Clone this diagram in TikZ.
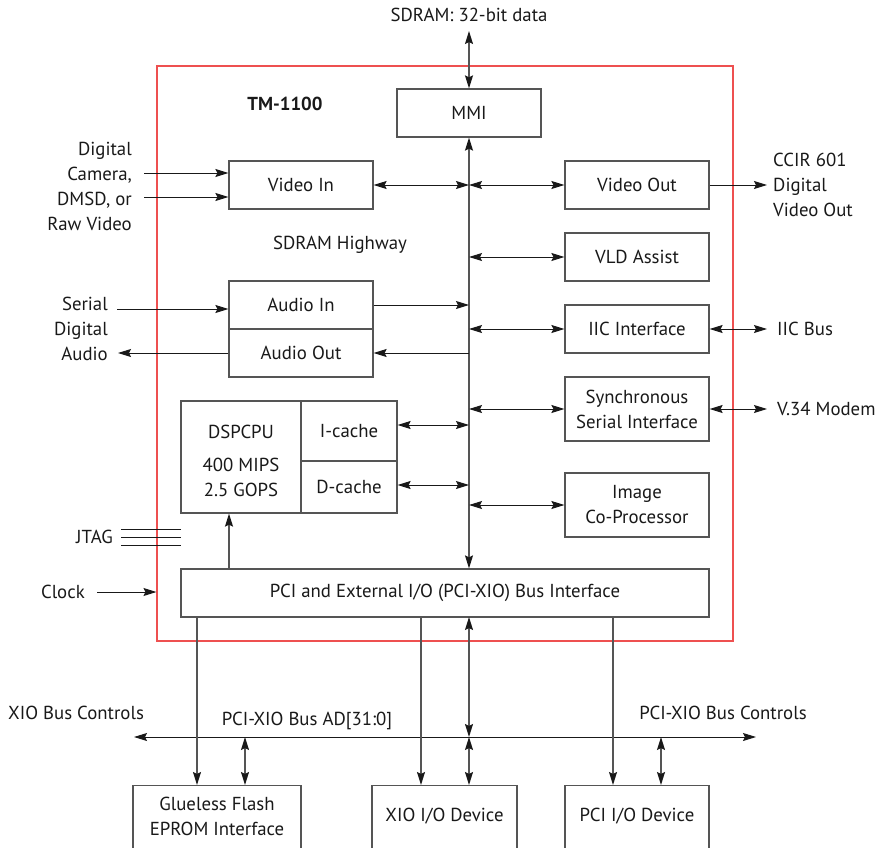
\documentclass[tikz,border=0pt]{standalone}
\usepackage{fontspec}
\setmainfont{PT Sans}
\usetikzlibrary{arrows.meta}
\definecolor{frame}{RGB}{238,80,80}
\definecolor{boxc}{RGB}{85,85,85}
\definecolor{ink}{RGB}{25,25,25}
\tikzset{
  every node/.style={font=\fontsize{18.8bp}{25bp}\selectfont, inner sep=0pt, text=ink},
  blk/.style={draw=boxc, line width=1.2bp, fill=white, minimum width=144bp, minimum height=48bp, align=center},
  con/.style={draw=ink, line width=1bp},
  vcon/.style={draw=boxc, line width=1.4bp},
  tip/.style={-{Stealth[length=13bp,width=8bp,inset=2bp,color=ink]}},
  tips/.style={{Stealth[length=13bp,width=8bp,inset=2bp,color=ink]}-{Stealth[length=13bp,width=8bp,inset=2bp,color=ink]}},
  lbl/.style={align=left},
}
\begin{document}
\begin{tikzpicture}[x=1bp,y=-1bp]
\useasboundingbox (0,0) rectangle (887,848);
% chip frame
\node[draw=frame, line width=1.1bp, minimum width=576bp, minimum height=575bp] (chip) at (445,353.5) {};
\node[font=\bfseries\fontsize{18.8bp}{22bp}\selectfont] (title) at (285,104) {TM-1100};
\node (hwlbl) at (340,245) {SDRAM Highway};
% blocks
\node[blk] (mmi) at (469,113) {MMI};
\node[blk] (vin) at (301,185) {Video In};
\node[blk] (vout) at (637,185) {Video Out};
\node[blk] (vld) at (637,257) {VLD Assist};
\node[blk] (ain) at (301,305) {Audio In};
\node[blk] (aout) at (301,353) {Audio Out};
\node[blk] (iic) at (637,329) {IIC Interface};
\node[blk, minimum height=64bp] (ssi) at (637,409) {Synchronous\\Serial Interface};
\node[blk, minimum height=64bp] (icp) at (637,505) {Image\\Co-Processor};
\node[blk, minimum width=120bp, minimum height=112bp] (dsp) at (241,457) {};
\node (dspname) at (241,432) {DSPCPU};
\node[align=center] (dspperf) at (241,477) {400 MIPS\\2.5 GOPS};
\node[blk, minimum width=96bp, minimum height=60bp] (icache) at (349,431) {I-cache};
\node[blk, minimum width=96bp, minimum height=52bp] (dcache) at (349,487) {D-cache};
\node[blk, minimum width=528bp] (pci) at (445,593) {PCI and External I/O (PCI-XIO) Bus Interface};
\node[blk, minimum width=168bp, minimum height=66bp, anchor=north] (glue) at (217,785) {};
\node[align=center] (gluetxt) at (217,816) {Glueless Flash\\EPROM Interface};
\node[blk, minimum width=145bp, minimum height=66bp, anchor=north] (xio) at (444.5,785) {};
\node (xiotxt) at (444.5,816) {XIO I/O Device};
\node[blk, minimum width=144bp, minimum height=66bp, anchor=north] (pcidev) at (637,785) {};
\node (pcidevtxt) at (637,816) {PCI I/O Device};
% highway
\draw[vcon,tips] (mmi.south) -- (mmi.south |- pci.north);
\node (sdram) at (469,15) {SDRAM: 32-bit data};
\coordinate (sdtop) at (469,31);
\draw[vcon,tips] (sdtop) -- (mmi.north);
% highway taps
\coordinate (hvid) at (469,185);
\coordinate (hvld) at (469,257);
\coordinate (hain) at (469,305);
\coordinate (hiic) at (469,329);
\coordinate (haout) at (469,353);
\coordinate (hssi) at (469,409);
\coordinate (hic) at (469,425);
\coordinate (hdc) at (469,485);
\coordinate (hicp) at (469,505);
\draw[con,tips] (vin.east) -- (hvid);
\draw[con,tips] (hvid) -- (vout.west);
\draw[con,tips] (hvld) -- (vld.west);
\draw[con,tip] (ain.east) -- (hain);
\draw[con,tip] (haout) -- (aout.east);
\draw[con,tips] (hiic) -- (iic.west);
\draw[con,tips] (hssi) -- (ssi.west);
\draw[con,tips] (hicp) -- (icp.west);
\draw[con,tips] (hic) -- (hic -| icache.east);
\draw[con,tips] (hdc) -- (hdc -| dcache.east);
\coordinate (pdsp) at (229,569);
\draw[vcon,tip] (pdsp) -- (pdsp |- dsp.south);
% left side inputs
\node[align=right, anchor=east] (vsrc) at (132,186.5) {Digital\\Camera,\\DMSD, or\\Raw Video};
\coordinate (vi1) at (144,173);
\coordinate (vi2) at (144,197);
\draw[con,tip] (vi1) -- (vi1 -| vin.west);
\draw[con,tip] (vi2) -- (vi2 -| vin.west);
\node[align=right, anchor=east] (aud) at (108,329) {Serial\\Digital\\Audio};
\coordinate (ai1) at (117,309);
\draw[con,tip] (ai1) -- (ai1 -| ain.west);
\coordinate (ao1) at (118,353);
\draw[con,tip] (aout.west) -- (ao1);
\node[anchor=east] (jtag) at (113,537) {JTAG};
\foreach \yy/\nm in {529/ja,537/jb,545/jc}{
  \coordinate (\nm1) at (121,\yy);
  \coordinate (\nm2) at (181,\yy);
  \draw[con] (\nm1) -- (\nm2);
}
\node[anchor=east] (clk) at (85,592) {Clock};
\coordinate (ck1) at (97,592);
\draw[con,tip] (ck1) -- (ck1 -| chip.west);
% right side outputs
\node[lbl, anchor=west] (ccir) at (773,185) {CCIR 601\\Digital\\Video Out};
\coordinate (vo1) at (767,185);
\draw[con,tip] (vout.east) -- (vo1);
\node[anchor=west] (iicbus) at (777,329) {IIC Bus};
\coordinate (ib1) at (767,329);
\draw[con,tips] (iic.east) -- (ib1);
\node[anchor=west] (modem) at (777,409) {V.34 Modem};
\coordinate (md1) at (767,409);
\draw[con,tips] (ssi.east) -- (md1);
% external bus
\coordinate (busL) at (134,737);
\coordinate (busR) at (756,737);
\draw[con,tips] (busL) -- (busR);
\node[anchor=west] (xioctl) at (8,713) {XIO Bus Controls};
\node (busad) at (307,721) {PCI-XIO Bus AD[31:0]};
\node (pcictl) at (723,713) {PCI-XIO Bus Controls};
\coordinate (pg) at (197,617);
\draw[vcon,tip] (pg) -- (pg |- glue.north);
\coordinate (px) at (421,617);
\draw[vcon,tip] (px) -- (px |- xio.north);
\coordinate (pp) at (613,617);
\draw[vcon,tip] (pp) -- (pp |- pcidev.north);
\coordinate (pb) at (469,617);
\coordinate (bx) at (469,737);
\draw[vcon,tips] (pb) -- (bx);
\draw[vcon,tips] (bx) -- (bx |- xio.north);
\coordinate (bg) at (245,737);
\draw[vcon,tips] (bg) -- (bg |- glue.north);
\coordinate (bp) at (661,737);
\draw[vcon,tips] (bp) -- (bp |- pcidev.north);
\end{tikzpicture}
\end{document}
